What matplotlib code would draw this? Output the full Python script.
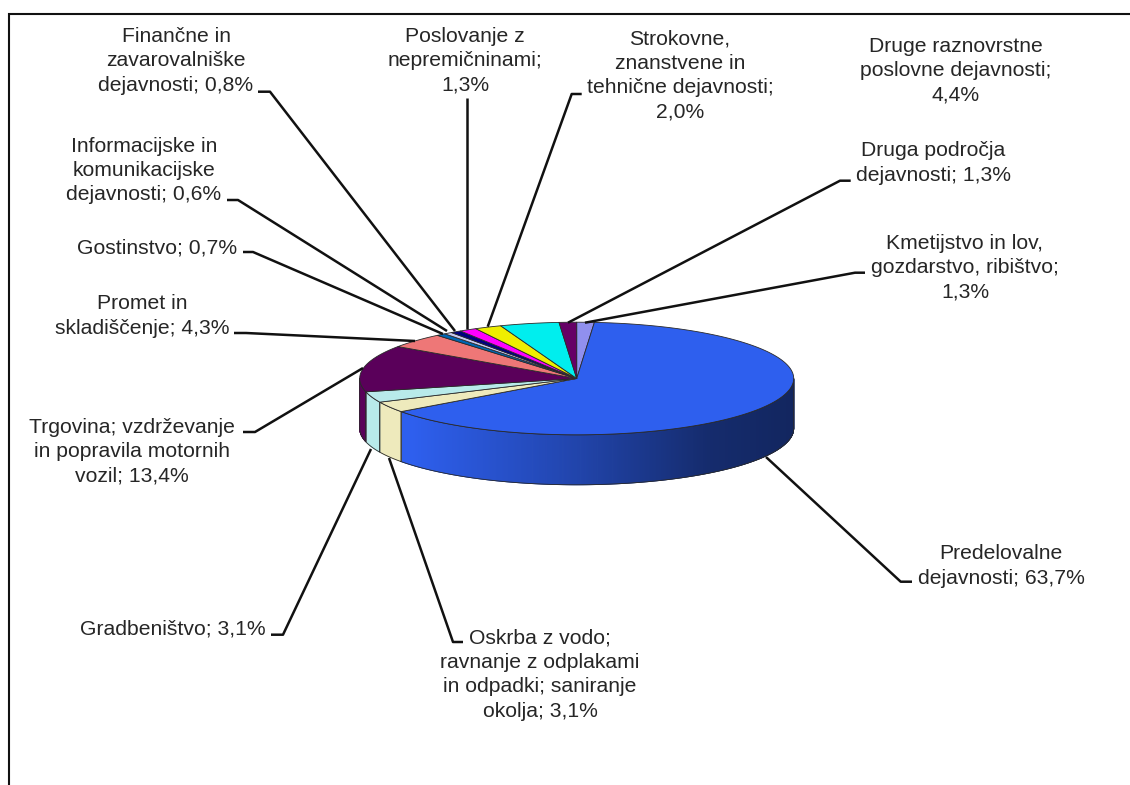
import numpy as np
import matplotlib
matplotlib.use("Agg")
import matplotlib.pyplot as plt
from matplotlib.collections import PolyCollection
from matplotlib.patches import Polygon

# ---- data (clockwise from 12 o'clock)
categories = [
    "Kmetijstvo in lov,\ngozdarstvo, ribištvo;",
    "Predelovalne\ndejavnosti;",
    "Oskrba z vodo;\nravnanje z odplakami\nin odpadki; saniranje\nokolja;",
    "Gradbeništvo;",
    "Trgovina; vzdrževanje\nin popravila motornih\nvozil;",
    "Promet in\nskladiščenje;",
    "Gostinstvo;",
    "Informacijske in\nkomunikacijske\ndejavnosti;",
    "Finančne in\nzavarovalniške\ndejavnosti;",
    "Poslovanje z\nnepremičninami;",
    "Strokovne,\nznanstvene in\ntehnične dejavnosti;",
    "Druge raznovrstne\nposlovne dejavnosti;",
    "Druga področja\ndejavnosti;",
]
values = [1.3, 63.7, 3.1, 3.1, 13.4, 4.3, 0.7, 0.6, 0.8, 1.3, 2.0, 4.4, 1.3]
value_break = ["\n", " ", " ", " ", " ", " ", " ", " ", " ", "\n", "\n", "\n", " "]

# ---- styles and layout (pixel space of the 1130x785 picture)
colors = ["#9090EE", "#2E5FEE", "#EEEABC", "#B8EAEA", "#5A005A", "#EE7777", "#0066B4",
          "#C8C8F0", "#000080", "#FF00FF", "#EEEE00", "#00EEEE", "#660066"]
label_pos = [(965, 267.5), (1001, 566), (540, 674.5), (173, 629), (132, 451.5), (142, 316),
             (157, 247.5), (144, 170.5), (176, 61), (465, 60.5), (680, 75.5), (956, 71), (933, 163)]
leaders = [
    [(865, 272.7), (855, 272.7), (585, 322.7)],
    [(912, 581.7), (900.7, 581.7), (766, 457)],
    [(463, 642), (453, 642), (389, 458)],
    [(271, 634.7), (283, 634.7), (371, 449)],
    [(243, 432), (255, 432), (363, 368)],
    [(234, 333), (246, 333), (415, 341)],
    [(243, 252), (253, 252), (443, 334)],
    [(227, 200), (238, 200), (447, 331)],
    [(258, 91.7), (270, 91.7), (455, 331)],
    [(466.7, 98), (466.7, 329)],
    [(581.7, 94), (571.7, 94), (487.7, 326.7)],
    None,
    [(850.7, 180.7), (840, 180.7), (568, 322.7)],
]
CX, CY, RX, RY, DEPTH = 576.7, 378.5, 217.0, 56.3, 50.0
EDGE = "#2a2a2a"


def rim(theta_deg):
    t = np.radians(theta_deg)
    return CX + RX * np.sin(t), CY - RY * np.cos(t)


def shade(x):
    t = (np.asarray(x) - (CX - RX)) / (2 * RX)
    return np.interp(t, [0.0, 0.12, 0.5, 0.8, 1.0], [1.0, 1.0, 0.72, 0.46, 0.40])


plt.rcParams["font.family"] = ["Liberation Sans", "DejaVu Sans"]
fig = plt.figure(figsize=(11.3, 7.85), dpi=100, facecolor="white")
ax = fig.add_axes([0, 0, 1, 1])
ax.set_xlim(0, 1130)
ax.set_ylim(785, 0)
ax.axis("off")

# frame: only top and left sides are visible in the crop
ax.plot([8.5, 8.5, 1130], [785, 13.5, 13.5], color="#111111", lw=1.5,
        solid_joinstyle="miter", zorder=1)

edges = np.concatenate([[0], np.cumsum(values)]) / np.sum(values) * 360.0

# side walls
for i, color in enumerate(colors):
    a0, a1 = max(edges[i], 90.0), min(edges[i + 1], 270.0)
    if a1 <= a0:
        continue
    ts = np.linspace(a0, a1, max(int((a1 - a0) * 4), 2) + 1)
    xs, ys = rim(ts)
    quads = [[(xs[k], ys[k]), (xs[k + 1], ys[k + 1]),
              (xs[k + 1], ys[k + 1] + DEPTH), (xs[k], ys[k] + DEPTH)]
             for k in range(len(ts) - 1)]
    base = np.array(matplotlib.colors.to_rgb(color))
    strength = 1.0 if values[i] > 20 else 0.1
    f = 1 - (1 - shade((xs[:-1] + xs[1:]) / 2)) * strength
    cols = np.clip(base[None, :] * f[:, None], 0, 1)
    ax.add_collection(PolyCollection(quads, facecolors=cols, edgecolors=cols,
                                     linewidths=0.6, zorder=2))
    outline = list(zip(xs, ys)) + list(zip(xs[::-1], ys[::-1] + DEPTH))
    ax.add_patch(Polygon(outline, closed=True, fill=False, edgecolor=EDGE,
                         linewidth=0.6, zorder=3))

# top face
for i, color in enumerate(colors):
    ts = np.linspace(edges[i], edges[i + 1], max(int(values[i] * 6), 3) + 1)
    xs, ys = rim(ts)
    pts = [(CX, CY)] + list(zip(xs, ys))
    ax.add_patch(Polygon(pts, closed=True, facecolor=color, edgecolor=EDGE,
                         linewidth=0.6, joinstyle="round", zorder=4))

# leader lines and labels
for leader, cat, val, brk, pos in zip(leaders, categories, values, value_break, label_pos):
    if leader is not None:
        lx, ly = zip(*leader)
        ax.plot(lx, ly, color="#111111", lw=1.8, solid_capstyle="butt",
                solid_joinstyle="round", zorder=5)
    label = f"{cat}{brk}{val:.1f}%".replace(".", ",")
    ax.text(pos[0], pos[1], label, ha="center", va="center", multialignment="center",
            fontsize=15.2, color="#262626", linespacing=1.36, zorder=6)

fig.savefig("out.png", dpi=100, facecolor="white")
